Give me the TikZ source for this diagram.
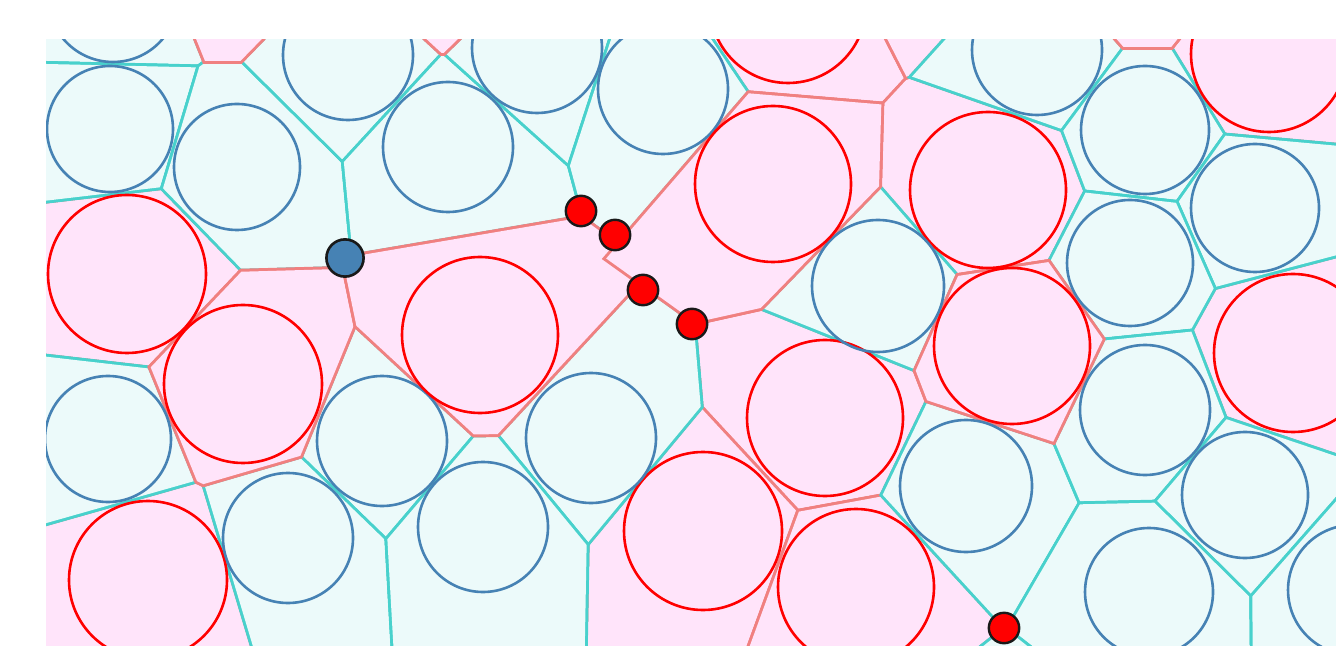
\documentclass[tikz,border=0pt]{standalone}
\usepackage{tikz}
\definecolor{cellb}{RGB}{236,250,250}
\definecolor{cellr}{RGB}{255,228,250}
\definecolor{edgeb}{RGB}{72,209,204}
\definecolor{edger}{RGB}{240,128,128}
\definecolor{circb}{RGB}{70,130,180}
\definecolor{circr}{RGB}{255,0,0}
\tikzset{
  reddot/.style={circle, fill=circr, draw=black!90, line width=1.2pt, minimum size=15.2pt, inner sep=0pt},
  bluedot/.style={circle, fill=circb, draw=black!90, line width=1.3pt, minimum size=18.6pt, inner sep=0pt},
  ring/.style={line width=1.3pt}
}
% power-diagram half plane clip: #1,#2 centre i, #3 weight i, #4,#5 centre j, #6 weight j, #7 inset
\newcommand\hvclip[7]{%
  \pgfmathsetmacro\hvdx{#4-(#1)}%
  \pgfmathsetmacro\hvdy{#5-(#2)}%
  \pgfmathsetmacro\hvd{sqrt(\hvdx*\hvdx+\hvdy*\hvdy)}%
  \ifdim\hvd pt>0.001pt
    \ifdim\hvd pt<3.2pt
      \pgfmathsetmacro\hvux{\hvdx/\hvd}%
      \pgfmathsetmacro\hvuy{\hvdy/\hvd}%
      \pgfmathsetmacro\hvt{0.5+((#3)*(#3)-(#6)*(#6))/(2*\hvd*\hvd)-(#7)/\hvd}%
      \pgfmathsetmacro\hvpx{#1+\hvt*\hvdx}%
      \pgfmathsetmacro\hvpy{#2+\hvt*\hvdy}%
      \clip ({\hvpx+30*(\hvuy)},{\hvpy-30*(\hvux)}) -- ({\hvpx-30*(\hvuy)},{\hvpy+30*(\hvux)})
        -- ({\hvpx-30*(\hvuy)-30*(\hvux)},{\hvpy+30*(\hvux)-30*(\hvuy)})
        -- ({\hvpx+30*(\hvuy)-30*(\hvux)},{\hvpy-30*(\hvux)-30*(\hvuy)}) -- cycle;
    \fi
  \fi}
% x/y/drawn radius/weight radius/kind  (units of 100 px), in drawing order
\def\gens{%
7.88/0.05/0.78/0.78/r, 12.69/0.54/0.78/0.78/r, 9.88/1.90/0.78/0.78/r, 12.93/3.53/0.79/0.79/r,
1.27/2.74/0.79/0.79/r, 8.25/4.18/0.78/0.78/r, 1.48/5.80/0.79/0.79/r, 7.03/5.31/0.79/0.79/r,
8.56/5.87/0.78/0.78/r, 9.15/-0.60/0.78/0.78/r,
1.13/-0.03/0.65/0.65/b, 1.10/1.29/0.63/0.63/b, 2.37/1.67/0.63/0.63/b, 3.48/0.55/0.65/0.65/b,
4.48/1.47/0.65/0.65/b, 5.37/0.48/0.65/0.65/b, 6.63/0.89/0.65/0.65/b, 10.37/0.50/0.65/0.65/b,
11.45/1.30/0.64/0.64/b, 12.55/2.08/0.64/0.64/b, 11.30/2.63/0.63/0.63/b, 8.78/2.86/0.66/0.66/b,
1.08/4.39/0.63/0.63/b, 3.82/4.41/0.65/0.65/b, 5.91/4.38/0.65/0.65/b, 9.66/4.86/0.66/0.66/b,
11.45/4.10/0.65/0.65/b, 12.45/4.95/0.63/0.63/b, 11.49/5.92/0.64/0.64/b, 13.53/5.90/0.65/0.65/b,
2.88/5.38/0.65/0.65/b, 4.83/5.27/0.65/0.65/b, 10.05/7.75/0.65/0.65/b,
2.43/3.84/0.79/0.79/r, 4.80/3.35/0.78/0.78/r, 7.73/1.84/0.78/0.78/r, 10.12/3.46/0.78/0.78/r,
2.37/-0.53/0.78/0.78/r, 4.43/-0.48/0.78/0.78/r, 11.45/-0.45/0.78/0.78/r}
\begin{document}
\begin{tikzpicture}[x=50pt,y=-50pt]
\useasboundingbox (0,0) rectangle (13.36,6.46);
\fill[white] (0,0) rectangle (13.36,6.46);
\begin{scope}
  \clip (0.46,0.40) rectangle (13.36,6.46);
  \fill[cellb] (0.46,0.40) rectangle (13.36,6.46);
  \foreach \xa/\ya/\ra/\wa/\ka in \gens {%
    \begin{scope}
      \foreach \xb/\yb/\rb/\wb/\kb in \gens {\hvclip{\xa}{\ya}{\wa}{\xb}{\yb}{\wb}{-0.015}}
      \fill[edge\ka] (0,0) rectangle (14,7);
    \end{scope}
    \begin{scope}
      \foreach \xb/\yb/\rb/\wb/\kb in \gens {\hvclip{\xa}{\ya}{\wa}{\xb}{\yb}{\wb}{0.015}}
      \fill[cell\ka] (0,0) rectangle (14,7);
    \end{scope}
  }
  \foreach \xa/\ya/\ra/\wa/\ka in \gens {\draw[ring, circ\ka] (\xa,\ya) circle (\ra);}
  \node[bluedot] (s) at (3.45,2.58) {};
  \node[reddot] (p1) at (5.81,2.11) {};
  \node[reddot] (p2) at (6.15,2.35) {};
  \node[reddot] (p3) at (6.43,2.90) {};
  \node[reddot] (p4) at (6.92,3.24) {};
  \node[reddot] (t) at (10.04,6.28) {};
\end{scope}
\end{tikzpicture}
\end{document}
